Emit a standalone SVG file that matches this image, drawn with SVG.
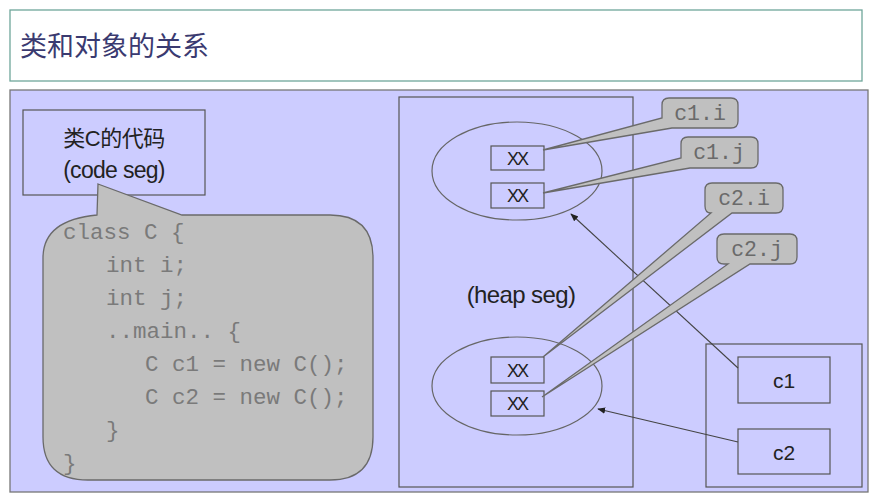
<svg xmlns="http://www.w3.org/2000/svg" width="875" height="497" viewBox="0 0 875 497">
<defs>
<marker id="ah" viewBox="0 0 10 10" refX="9" refY="5" markerWidth="8" markerHeight="8" orient="auto" markerUnits="userSpaceOnUse"><path d="M0,1 L10,5 L0,9 Z" fill="#222"/></marker>
<style>
.sans{font-family:"Liberation Sans","Noto Sans CJK SC",Arial,sans-serif;}
.mono{font-family:"Liberation Mono","Courier New",monospace;}
.box{fill:#CCCCFF;stroke:#555;stroke-width:1.2;}
.bub{fill:#C0C0C0;stroke:#6a6a6a;stroke-width:1.3;}
.code{font-size:22.5px;fill:#7a7a7a;}
.lbl{font-size:21.5px;fill:#6a6a6a;}
.xx{font-size:18px;fill:#222;text-anchor:middle;letter-spacing:-2px;}
.ell{fill:none;stroke:#666;stroke-width:1.2;}
.conn{stroke:#444;stroke-width:1.1;fill:none;}
</style>
</defs>
<rect x="0" y="0" width="875" height="497" fill="#ffffff"/>
<g id="title">
<rect x="10" y="10" width="852" height="71" fill="#ffffff" stroke="#6fa69a" stroke-width="1.3"/>
<text x="20" y="56" class="sans" font-size="27" fill="#3a3a70">类和对象的关系</text>
</g>
<g id="panel">
<rect x="10" y="90" width="858" height="402" fill="#CCCCFF" stroke="#777" stroke-width="1.3"/>
</g>
<g id="codeseg">
<rect x="23" y="110" width="182" height="85" class="box"/>
<text x="114" y="146" class="sans" font-size="22" fill="#222" text-anchor="middle" letter-spacing="-0.5">类C的代码</text>
<text x="114" y="178" class="sans" font-size="23" fill="#222" text-anchor="middle" letter-spacing="-0.7">(code seg)</text>
</g>
<g id="code">
<path d="M98,184 L182,215 H330 Q373,215 373,258 V437 Q373,480 330,480 H88 Q43,480 43,437 V258 Q43,220 97,215 Z" class="bub"/>
<text class="mono code">
<tspan x="63" y="239">class C {</tspan>
<tspan x="106" y="272">int i;</tspan>
<tspan x="106" y="305">int j;</tspan>
<tspan x="106" y="338">..main.. {</tspan>
<tspan x="145" y="371">C c1 = new C();</tspan>
<tspan x="145" y="404">C c2 = new C();</tspan>
<tspan x="106" y="437">}</tspan>
<tspan x="63" y="470">}</tspan>
</text>
</g>
<g id="heap">
<rect x="399" y="97" width="234" height="390" fill="none" stroke="#555" stroke-width="1.2"/>
<text x="521" y="303" class="sans" font-size="24" fill="#222" text-anchor="middle" letter-spacing="-0.6">(heap seg)</text>
</g>
<g id="obj1">
<ellipse cx="517" cy="171" rx="85" ry="49" class="ell"/>
<rect x="491" y="146" width="53" height="24" class="box"/>
<text x="517" y="165" class="sans xx">XX</text>
<rect x="491" y="183" width="53" height="25" class="box"/>
<text x="517" y="202" class="sans xx">XX</text>
</g>
<g id="obj2">
<ellipse cx="517" cy="386" rx="85" ry="49" class="ell"/>
<rect x="491" y="357" width="53" height="26" class="box"/>
<text x="517" y="377" class="sans xx">XX</text>
<rect x="491" y="391" width="53" height="25" class="box"/>
<text x="517" y="410" class="sans xx">XX</text>
</g>
<g id="stack">
<rect x="706" y="344" width="156" height="143" fill="none" stroke="#555" stroke-width="1.2"/>
</g>
<g id="c1">
<rect x="738" y="357" width="92" height="46" class="box"/>
<text x="784" y="388" class="sans" font-size="21" fill="#222" text-anchor="middle">c1</text>
</g>
<g id="c2">
<rect x="738" y="429" width="92" height="45" class="box"/>
<text x="784" y="460" class="sans" font-size="21" fill="#222" text-anchor="middle">c2</text>
</g>
<g id="connectors">
<line x1="738" y1="368" x2="571" y2="214" class="conn" marker-end="url(#ah)"/>
<line x1="738" y1="442" x2="598" y2="409" class="conn" marker-end="url(#ah)"/>
</g>
<g id="c1i">
<path d="M669,98 H731 Q738,98 738,105 V121 Q738,128 731,128 H672 L543,150 L662,118 V105 Q662,98 669,98 Z" class="bub"/>
<text x="700" y="120" class="mono lbl" text-anchor="middle">c1.i</text>
</g>
<g id="c1j">
<path d="M688,137 H751 Q758,137 758,144 V161 Q758,168 751,168 H690 L543,193 L681,158 V144 Q681,137 688,137 Z" class="bub"/>
<text x="719" y="159" class="mono lbl" text-anchor="middle">c1.j</text>
</g>
<g id="c2i">
<path d="M712,183 H776 Q783,183 783,190 V206 Q783,213 776,213 H732 L543,357 L711,213 Q705,213 705,206 V190 Q705,183 712,183 Z" class="bub"/>
<text x="744" y="205" class="mono lbl" text-anchor="middle">c2.i</text>
</g>
<g id="c2j">
<path d="M724,234 H790 Q797,234 797,241 V257 Q797,264 790,264 H750 L542,397 L728,264 H724 Q717,264 717,257 V241 Q717,234 724,234 Z" class="bub"/>
<text x="757" y="256" class="mono lbl" text-anchor="middle">c2.j</text>
</g>
</svg>
